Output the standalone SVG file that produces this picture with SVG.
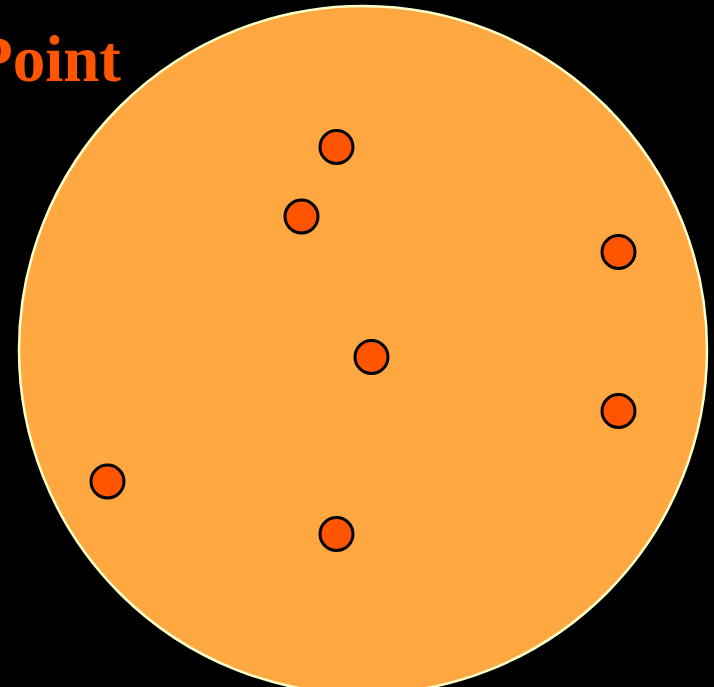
<svg xmlns="http://www.w3.org/2000/svg" width="714" height="687" viewBox="0 0 714 687">
<style>
.title{font-family:"Liberation Serif","Times New Roman",serif;font-weight:bold;font-size:65px;fill:#FF5500}
.pt{fill:#FF5500;stroke:#000;stroke-width:3}
</style>
<rect width="714" height="687" fill="#000"/>
<text class="title" x="121" y="81" text-anchor="end">Point</text>
<g id="region"><circle cx="363" cy="350" r="344" fill="#FFA842" stroke="#FFFFCC" stroke-width="2.5"/></g>
<g id="p1"><circle class="pt" cx="336.5" cy="147" r="16.5"/></g>
<g id="p2"><circle class="pt" cx="301.5" cy="216.5" r="16.5"/></g>
<g id="p3"><circle class="pt" cx="618.5" cy="252" r="16.5"/></g>
<g id="p4"><circle class="pt" cx="371.5" cy="357" r="16.5"/></g>
<g id="p5"><circle class="pt" cx="618.5" cy="411" r="16.5"/></g>
<g id="p6"><circle class="pt" cx="107.5" cy="481.5" r="16.5"/></g>
<g id="p7"><circle class="pt" cx="336.5" cy="534" r="16.5"/></g>
<g id="connectors"></g>
</svg>
